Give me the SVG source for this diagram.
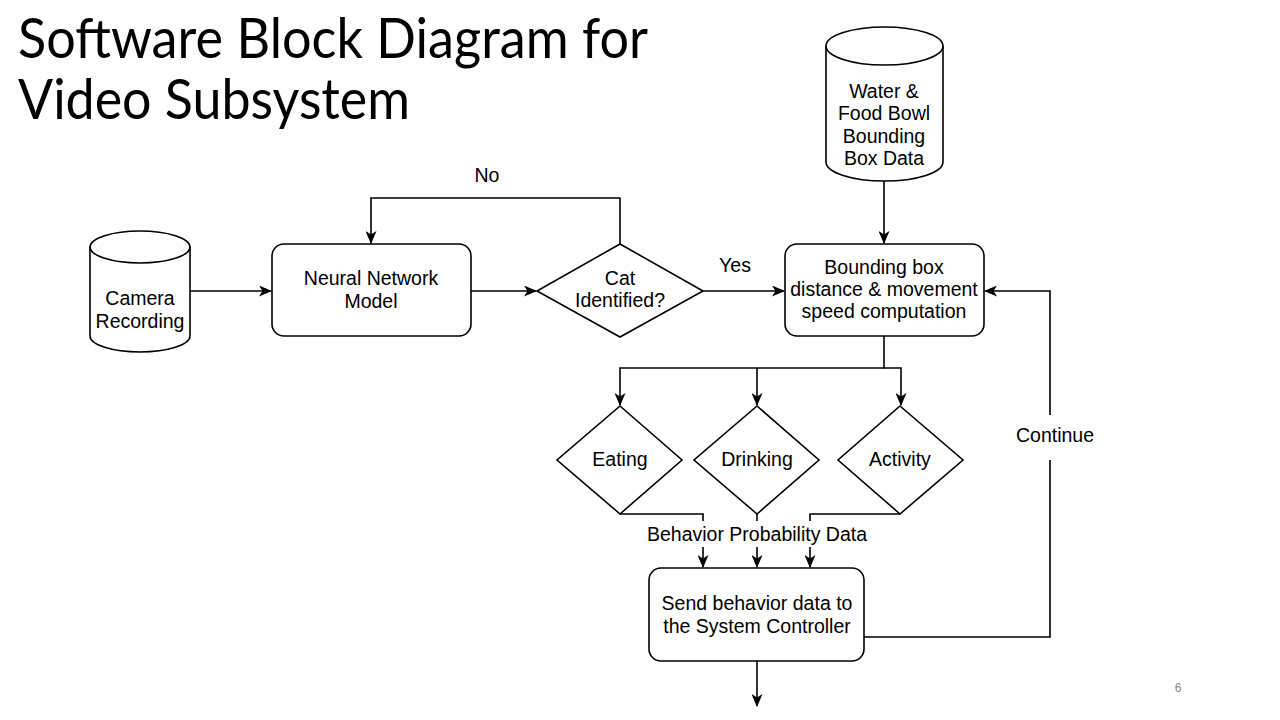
<svg xmlns="http://www.w3.org/2000/svg" width="1280" height="720" viewBox="0 0 1280 720">
<defs>
<marker id="arr" viewBox="0 0 13 11" refX="12" refY="5.5" markerWidth="13" markerHeight="11" markerUnits="userSpaceOnUse" orient="auto">
<path d="M0,0 L13,5.5 L0,11 L3.5,5.5 Z" fill="#000"/>
</marker>
</defs>
<style>
.shape{fill:#fff;stroke:#000;stroke-width:1.6}
.line{fill:none;stroke:#000;stroke-width:1.6}
.t{font-family:"Liberation Sans",Arial,sans-serif;font-size:19.5px;fill:#000;text-anchor:middle}
.title{font-family:Lato,"Open Sans",sans-serif;font-size:56px;fill:#000}
</style>
<rect width="1280" height="720" fill="#fff"/>
<g id="title">
<text class="title" x="18" y="58" textLength="630" lengthAdjust="spacingAndGlyphs">Software Block Diagram for</text>
<text class="title" x="18" y="119" textLength="392" lengthAdjust="spacingAndGlyphs">Video Subsystem</text>
</g>
<g id="connectors">
<path class="line" d="M190,291 H271" marker-end="url(#arr)"/>
<path class="line" d="M471,291 H536" marker-end="url(#arr)"/>
<path class="line" d="M620,244 V198 H371 V243" marker-end="url(#arr)"/>
<path class="line" d="M703,291 H784" marker-end="url(#arr)"/>
<path class="line" d="M884,180 V243" marker-end="url(#arr)"/>
<path class="line" d="M884,336 V368 H620 V405" marker-end="url(#arr)"/>
<path class="line" d="M757,368 V405" marker-end="url(#arr)"/>
<path class="line" d="M884,368 H901 V405" marker-end="url(#arr)"/>
<path class="line" d="M620,514 H703 V567" marker-end="url(#arr)"/>
<path class="line" d="M757,514 V567" marker-end="url(#arr)"/>
<path class="line" d="M900,514 H810 V567" marker-end="url(#arr)"/>
<path class="line" d="M757,661 V706" marker-end="url(#arr)"/>
<path class="line" d="M864,637 H1050 V291 H985" marker-end="url(#arr)"/>
<rect x="642" y="521" width="230" height="26" fill="#fff"/>
<rect x="1010" y="415" width="90" height="45" fill="#fff"/>
<text class="t" x="487" y="182">No</text>
<text class="t" x="735" y="272">Yes</text>
<text class="t" x="757" y="541">Behavior Probability Data</text>
<text class="t" x="1055" y="442">Continue</text>
</g>
<g id="camera">
<path class="shape" d="M90,247 A50,16 0 0 1 190,247 V336 A50,16 0 0 1 90,336 Z"/>
<path class="line" d="M90,247 A50,16 0 0 0 190,247"/>
<text class="t" x="140" y="305">Camera</text>
<text class="t" x="140" y="328">Recording</text>
</g>
<g id="neural">
<rect class="shape" x="272" y="244" width="199" height="92" rx="12"/>
<text class="t" x="371" y="285">Neural Network</text>
<text class="t" x="371" y="308">Model</text>
</g>
<g id="cat">
<path class="shape" d="M620,244 L703,291 L620,337 L537,291 Z"/>
<text class="t" x="620" y="285">Cat</text>
<text class="t" x="620" y="307">Identified?</text>
</g>
<g id="bowl">
<path class="shape" d="M826,46 A58.5,19 0 0 1 943,46 V162 A58.5,19 0 0 1 826,162 Z"/>
<path class="line" d="M826,46 A58.5,19 0 0 0 943,46"/>
<text class="t" x="884" y="98">Water &amp;</text>
<text class="t" x="884" y="120">Food Bowl</text>
<text class="t" x="884" y="143">Bounding</text>
<text class="t" x="884" y="165">Box Data</text>
</g>
<g id="bbox">
<rect class="shape" x="785" y="244" width="199" height="92" rx="12"/>
<text class="t" x="884" y="274">Bounding box</text>
<text class="t" x="884" y="296">distance &amp; movement</text>
<text class="t" x="884" y="318">speed computation</text>
</g>
<g id="eating">
<path class="shape" d="M620,406 L682,460 L620,514 L557,460 Z"/>
<text class="t" x="620" y="466">Eating</text>
</g>
<g id="drinking">
<path class="shape" d="M757,406 L819,460 L757,514 L694,460 Z"/>
<text class="t" x="757" y="466">Drinking</text>
</g>
<g id="activity">
<path class="shape" d="M900,406 L963,460 L900,514 L838,460 Z"/>
<text class="t" x="900" y="466">Activity</text>
</g>
<g id="send">
<rect class="shape" x="649" y="568" width="215" height="93" rx="12"/>
<text class="t" x="757" y="610">Send behavior data to</text>
<text class="t" x="757" y="633">the System Controller</text>
</g>
<g id="page">
<text x="1178" y="692" font-family="Liberation Sans,Arial,sans-serif" font-size="12" fill="#888" text-anchor="middle">6</text>
</g>
</svg>
